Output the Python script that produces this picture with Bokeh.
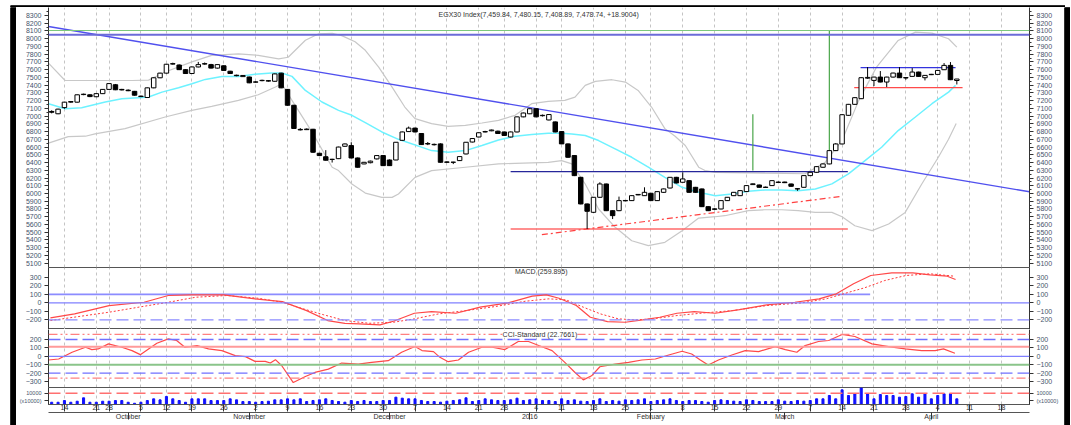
from bokeh.plotting import figure
from bokeh.layouts import column, row
from bokeh.models import FixedTicker, LinearAxis, Range1d, Grid, Span, Label
from bokeh.embed import file_html
from bokeh.resources import INLINE

FONT = "Liberation Sans"

# ---------------- data (trading-day index based) ----------------
opens = [7060, 7030, 7110, 7180, 7180, 7278, 7275, 7250, 7290, 7345, 7405, 7345, 7335, 7320, 7258, 7240, 7365, 7495, 7555, 7672,
         7660, 7600, 7550, 7635, 7672, 7665, 7620, 7650, 7580, 7528, 7510, 7505, 7438, 7458, 7458, 7450, 7555, 7345, 7140, 6828,
         6825, 6830, 6520, 6475, 6440, 6450, 6610, 6619, 6459, 6382, 6398, 6447, 6490, 6433, 6433, 6687, 6800, 6845, 6775, 6645,
         6630, 6641, 6408, 6405, 6425, 6511, 6665, 6730, 6795, 6810, 6805, 6795, 6730, 6795, 6990, 7030, 7095, 7005, 6950, 6925,
         6800, 6641, 6490, 6209, 5865, 5757, 5951, 6123, 5778, 5778, 5905, 5908, 5982, 5972, 6003, 5908, 6015, 6071, 6209, 6145,
         6166, 6080, 6059, 5830, 5795, 5800, 5908, 5972, 5972, 6025, 6115, 6110, 6078, 6102, 6142, 6148, 6123, 6062, 6080, 6231,
         6274, 6339, 6382, 6554, 6640, 7010, 7152, 7225, 7490, 7461, 7504, 7440, 7504, 7556, 7492, 7513, 7569, 7496, 7535, 7539,
         7599, 7655, 7459.84]
highs = [7075, 7095, 7185, 7195, 7280, 7290, 7282, 7295, 7350, 7425, 7415, 7352, 7345, 7325, 7265, 7370, 7500, 7560, 7675, 7690,
         7668, 7605, 7640, 7700, 7692, 7675, 7670, 7655, 7585, 7535, 7530, 7510, 7450, 7470, 7465, 7550, 7560, 7350, 7145, 6845,
         6840, 6835, 6525, 6560, 6448, 6605, 6645, 6662, 6465, 6408, 6425, 6495, 6495, 6440, 6665, 6800, 6865, 6850, 6780, 6665,
         6645, 6648, 6415, 6410, 6480, 6665, 6715, 6790, 6810, 6825, 6812, 6800, 6800, 6995, 7045, 7100, 7100, 7020, 7025, 6930,
         6805, 6645, 6495, 6215, 5870, 5955, 6145, 6128, 5783, 5960, 5915, 5978, 5992, 6080, 6008, 6028, 6063, 6213, 6215, 6274,
         6172, 6085, 6064, 5835, 5810, 5912, 5955, 6020, 6042, 6107, 6130, 6115, 6090, 6170, 6155, 6152, 6128, 6068, 6236, 6279,
         6352, 6387, 6560, 6650, 7025, 7157, 7243, 7500, 7633, 7508, 7582, 7508, 7560, 7633, 7505, 7620, 7574, 7530, 7545, 7594,
         7685, 7698, 7480.15]
lows = [7035, 7025, 7095, 7170, 7175, 7270, 7245, 7245, 7285, 7340, 7335, 7332, 7322, 7265, 7245, 7235, 7360, 7490, 7550, 7665,
        7595, 7545, 7545, 7630, 7665, 7615, 7615, 7585, 7545, 7515, 7505, 7425, 7430, 7450, 7445, 7445, 7360, 7135, 6835, 6815,
        6820, 6525, 6485, 6425, 6400, 6445, 6605, 6455, 6335, 6378, 6390, 6440, 6355, 6355, 6430, 6680, 6795, 6790, 6628, 6625,
        6620, 6398, 6395, 6380, 6420, 6505, 6660, 6725, 6790, 6805, 6770, 6745, 6725, 6790, 6985, 7025, 6985, 6995, 6945, 6790,
        6638, 6462, 6225, 5860, 5541, 5750, 5945, 5773, 5670, 5772, 5900, 5903, 5978, 5968, 5903, 5903, 6010, 6066, 6130, 6140,
        6010, 6010, 5825, 5773, 5785, 5795, 5903, 5967, 5967, 6020, 6110, 6075, 6072, 6097, 6138, 6135, 6088, 6035, 6075, 6226,
        6269, 6334, 6377, 6548, 6635, 7005, 7147, 7220, 7480, 7388, 7436, 7375, 7500, 7492, 7470, 7508, 7508, 7461, 7530, 7535,
        7595, 7465, 7408.89]
closes = [7050, 7090, 7180, 7188, 7275, 7283, 7252, 7290, 7345, 7420, 7340, 7338, 7328, 7270, 7252, 7365, 7495, 7555, 7670, 7678,
          7600, 7550, 7635, 7665, 7678, 7620, 7665, 7590, 7550, 7522, 7525, 7430, 7442, 7462, 7452, 7545, 7365, 7140, 6840, 6822,
          6832, 6533, 6490, 6430, 6442, 6600, 6640, 6459, 6339, 6403, 6418, 6490, 6360, 6360, 6662, 6795, 6845, 6795, 6632, 6640,
          6635, 6403, 6403, 6403, 6477, 6662, 6710, 6785, 6800, 6820, 6775, 6750, 6795, 6990, 7040, 7095, 6990, 7010, 7020, 6795,
          6641, 6468, 6231, 5865, 5770, 5951, 6123, 5778, 5714, 5908, 5910, 5972, 5988, 6015, 5908, 6024, 6059, 6209, 6136, 6188,
          6015, 6015, 5830, 5778, 5802, 5908, 5951, 6015, 6037, 6102, 6125, 6080, 6082, 6166, 6148, 6140, 6093, 6058, 6231, 6274,
          6347, 6382, 6554, 6640, 7018, 7152, 7238, 7496, 7500, 7504, 7440, 7504, 7556, 7496, 7498, 7569, 7513, 7526, 7540, 7590,
          7655, 7470, 7478.74]
volumes = [2000, 2000, 3500, 2000, 2900, 5900, 2000, 2000, 2900, 2900, 3500, 3500, 2000, 1100, 2000, 3500, 5000, 4100, 7100, 5000,
           3500, 2000, 5000, 5000, 5000, 3500, 3500, 3500, 5000, 4100, 2600, 2600, 2000, 2600, 2900, 4100, 4100, 5000, 4100, 5000,
           2650, 3540, 4130, 5010, 3540, 2650, 2060, 3540, 2650, 3540, 2650, 2650, 3540, 3540, 6490, 5600, 5010, 5010, 3540, 2650,
           2650, 2060, 2950, 3540, 4130, 5900, 2650, 3540, 5010, 4130, 3540, 3540, 4130, 5600, 3540, 4130, 5010, 3540, 3540, 2650,
           5010, 3540, 4130, 2950, 2650, 3540, 5010, 2650, 3540, 2950, 4130, 3540, 4130, 5010, 2650, 3540, 4130, 5010, 3540, 2650,
           3540, 3540, 2650, 2060, 3540, 4130, 3540, 2950, 2650, 4130, 3540, 2650, 2650, 2650, 4130, 2950, 2650, 3540, 2950, 3540,
           5010, 5010, 7960, 5010, 12980, 7960, 9440, 14700, 9440, 5010, 8850, 7960, 7960, 6490, 7080, 9440, 6490, 9440, 5010, 7960,
           9440, 9440, 5010]
days = list(range(len(closes)))

# 20-day moving average (cyan) and Bollinger bands (gray)
ma_x = [-0.5, 2.1, 4.7, 8.4, 11.0, 13.6, 15.2, 17.3, 19.9, 22.0, 24.1, 26.7, 29.3, 31.9, 34.5, 36.1, 37.7, 39.8, 42.4, 45.0,
        47.1, 49.2, 51.8, 54.4, 59.6, 62.2, 64.9, 67.5, 70.1, 72.7, 75.3, 77.9, 80.0, 81.6, 83.7, 85.8, 88.4, 91.0, 93.6, 96.2,
        98.9, 101.5, 104.1, 106.7, 109.3, 111.9, 114.5, 117.1, 119.8, 122.4, 125.0, 127.6, 130.2, 132.8, 135.5, 138.1, 140.7, 141.8]
ma_y = [7160, 7096, 7108, 7182, 7225, 7238, 7246, 7310, 7367, 7418, 7474, 7513, 7513, 7540, 7556, 7556, 7513, 7332, 7182, 7074,
        7010, 6915, 6795, 6700, 6554, 6533, 6554, 6620, 6692, 6740, 6761, 6778, 6778, 6770, 6750, 6684, 6576, 6468, 6340, 6209,
        6080, 6016, 5972, 5994, 6028, 6046, 6046, 6037, 6059, 6124, 6253, 6425, 6598, 6813, 6988, 7160, 7310, 7397]
bbu_x = [-0.5, 2.1, 4.7, 8.4, 12.6, 15.2, 17.8, 22.0, 25.1, 29.3, 32.4, 35.6, 37.1, 39.8, 41.9, 44.0, 45.5, 47.6, 49.2, 51.3,
         53.4, 55.4, 57.0, 59.6, 62.2, 64.9, 67.5, 70.1, 72.7, 75.3, 77.9, 80.5, 82.1, 83.7, 85.3, 87.9, 90.0, 92.0, 94.1, 96.2,
         97.8, 99.4, 101.5, 102.5, 104.1, 111.9, 118.2, 121.3, 124.0, 126.6, 129.4, 132.8, 135.5, 138.1, 140.7, 142.0]
bbu_y = [7685, 7460, 7460, 7460, 7460, 7465, 7570, 7700, 7785, 7805, 7785, 7740, 7760, 7980, 8063, 8070, 8040, 7960, 7850, 7633,
         7375, 7117, 6967, 6902, 6868, 6881, 6911, 6945, 7010, 7160, 7190, 7203, 7246, 7397, 7448, 7470, 7440, 7332, 7117, 6838,
         6740, 6620, 6340, 6296, 6274, 6262, 6255, 6400, 6687, 7200, 7633, 7977, 8085, 8072, 7999, 7891]
bbl_x = [-0.5, 2.6, 5.3, 6.8, 11.5, 17.8, 22.0, 25.1, 29.3, 32.4, 35.1, 36.1, 37.7, 40.8, 44.0, 45.0, 47.1, 49.2, 51.8, 53.4,
         54.4, 57.0, 59.6, 64.9, 70.1, 72.7, 77.9, 80.0, 81.6, 83.7, 85.8, 88.4, 91.0, 93.6, 96.2, 98.9, 101.5, 104.1, 105.6, 109.3,
         111.9, 114.5, 117.1, 119.8, 122.4, 124.0, 126.0, 128.7, 131.3, 133.9, 136.5, 139.1, 140.7, 141.9]
bbl_y = [6650, 6735, 6740, 6770, 6838, 6988, 7074, 7126, 7203, 7276, 7375, 7418, 7203, 6800, 6340, 6296, 6123, 6005, 5950, 5950,
         5994, 6209, 6296, 6339, 6382, 6390, 6403, 6425, 6382, 6123, 5800, 5563, 5390, 5326, 5369, 5520, 5683, 5700, 5713, 5778,
         5790, 5790, 5778, 5756, 5756, 5700, 5584, 5520, 5606, 5756, 6123, 6468, 6700, 6905]

# drawn analysis lines
price_refs = [8106, 8050]
trend_x = [-0.5, 153.4]
trend_y = [8158, 6022]
tri_x = [72.0, 124.9]
tri_top = [6283, 6283]
tri_bottom = [5541, 5541]
support_x = [76.9, 124.0]
support_y = [5468, 5964]
vline_x = [110, 122]
vline_y0 = [6296, 6555]
vline_y1 = [7023, 8106]
flag_top_x = [126.9, 141.8]
flag_top_y = [7625, 7625]
flag_bot_x = [125.9, 142.9]
flag_bot_y = [7367, 7367]

# MACD
macd_x = [-0.2, 3.6, 9.0, 14.5, 18.3, 22.0, 27.0, 31.9, 36.2, 40.0, 43.3, 46.0, 48.2, 51.5, 53.6, 56.9, 59.6, 63.4, 67.2, 71.6,
          75.4, 77.6, 79.6, 82.3, 84.5, 87.2, 90.0, 92.7, 95.4, 98.1, 100.8, 104.1, 107.9, 112.2, 116.6, 120.4, 123.1, 125.8, 128.5, 131.8,
          135.1, 137.8, 140.5, 141.8]
macd_y = [-176, -130, -32, 7, 86, 94, 94, 47, 15, -91, -208, -240, -247, -259, -216, -122, -102, -122, -51, 0,
          78, 94, 54, -32, -169, -220, -228, -200, -169, -122, -102, -122, -79, -24, 7, 47, 106, 224, 321, 353,
          353, 329, 313, 274]
sig_x = [-0.2, 9.0, 14.5, 18.3, 22.6, 27.5, 32.4, 36.2, 39.5, 42.7, 46.0, 49.8, 53.6, 56.9, 60.7, 65.0, 69.9, 74.3, 78.0, 80.7,
         83.4, 86.1, 88.9, 91.6, 94.3, 98.1, 102.4, 106.8, 112.2, 117.7, 121.5, 124.2, 127.5, 130.7, 134.0, 137.8, 141.6]
sig_y = [-208, -110, -40, 7, 66, 86, 54, 7, -71, -141, -208, -240, -228, -188, -130, -91, -40, 19, 47, 35,
         -51, -130, -188, -200, -188, -149, -118, -91, -32, 0, 47, 106, 176, 262, 321, 341, 313]
macd_band_x = [-0.5, 128.4]
macd_band_y = [100, 100]
macd_levels = [0, -200]

# CCI
cci_x = [-0.5, 1.1, 3.2, 5.3, 6.3, 7.3, 8.9, 11.0, 12.6, 13.9, 15.2, 16.5, 18.3, 19.6, 20.9, 22.8, 24.6, 26.7, 28.8, 30.4,
         31.9, 33.5, 34.3, 35.1, 36.1, 37.9, 39.8, 41.3, 43.4, 45.5, 48.1, 50.2, 52.8, 54.9, 57.0, 58.1, 59.9, 60.9, 62.2, 63.8,
         65.4, 67.5, 69.1, 71.1, 73.2, 74.8, 76.4, 78.5, 80.5, 82.1, 83.4, 84.7, 86.0, 88.4, 90.5, 92.6, 94.7, 96.8, 98.9, 100.4,
         101.7, 103.0, 104.6, 106.7, 108.8, 110.9, 113.5, 115.1, 116.9, 118.2, 120.3, 121.9, 124.0, 126.0, 128.7, 131.3, 133.9, 136.5, 138.6, 139.9,
         141.7]
cci_y = [-44, -32, 48, 108, 80, 88, 148, 108, 68, 20, 88, 156, 208, 188, 108, 128, 88, 68, 8, -4,
         -60, -60, -80, -40, -112, -312, -240, -192, -152, -80, -92, -72, -52, 48, 116, 68, 56, -12, -64, -44,
         48, 108, 108, 80, 176, 176, 128, 68, -72, -192, -280, -232, -124, -92, -72, -44, -32, 16, 60, 28,
         -40, -104, -44, 16, 68, 56, 116, 80, 48, 128, 176, 188, 260, 236, 148, 116, 88, 68, 68, 88,
         36]
cci_dashdot = [260, -260]
cci_dashed = [200, -200]
cci_red = 115
cci_zero = 0
cci_green = -100

vol_ref = 10000

# axis ticks / labels
price_ticks = list(range(5100, 8301, 100))
price_minor = list(range(5050, 8351, 100))
macd_ticks = [-200, -100, 0, 100, 200, 300]
cci_ticks = [-300, -200, -100, 0, 100, 200]
vol_ticks = [3400, 10000]
vol_labels = ["(x10000)", "10000"]
week_ticks = [2, 7, 9, 14, 18, 22, 27, 32, 37, 42, 47, 52, 57, 62, 67, 71, 76, 80, 85, 90, 94, 99, 104, 109, 114,
              119, 124, 129, 134, 139, 144, 149]
week_labels = ["14", "21", "28", "5", "12", "19", "26", "2", "9", "16", "23", "30", "7", "14", "21", "28", "4", "11",
               "18", "25", "1", "8", "15", "22", "29", "7", "14", "21", "28", "4", "11", "18"]
month_ticks = [12, 31, 53, 75, 94, 115, 138]
month_labels = ["October", "November", "December", "2016", "February", "March", "April"]

title_text = "EGX30 Index(7,459.84, 7,480.15, 7,408.89, 7,478.74, +18.9004)"
macd_text = "MACD (259.895)"
cci_text = "CCI-Standard (22.7661)"

# ---------------- figures ----------------
AX_COL = "#46536c"
xr = Range1d(-0.5, 153.4)


def style_y(ax, ticks, minor=None, overrides=None, size="7px"):
    ax.ticker = FixedTicker(ticks=ticks, minor_ticks=minor or [])
    ax.major_label_text_font = FONT
    ax.major_label_text_font_size = size
    ax.major_label_text_color = AX_COL
    ax.axis_line_color = "#333333"
    ax.major_tick_line_color = "#333333"
    ax.minor_tick_line_color = "#333333"
    ax.major_tick_in = 0
    ax.major_tick_out = 4
    ax.minor_tick_in = 0
    ax.minor_tick_out = 2
    ax.major_label_standoff = 3
    if overrides:
        ax.major_label_overrides = overrides


def make_fig(fh, y0, y1, ticks, minor=None, overrides=None, size="7px"):
    p = figure(frame_width=981, frame_height=fh, x_range=xr, y_range=Range1d(y0, y1),
               title=None, toolbar_location=None, output_backend="svg",
               x_axis_location=None, y_axis_location="left",
               min_border_left=27, min_border_right=35, min_border_top=0, min_border_bottom=0,
               outline_line_color=None, background_fill_color="white", border_fill_color="white")
    p.xgrid.visible = False
    p.ygrid.visible = False
    p.add_layout(Grid(dimension=0, ticker=FixedTicker(ticks=week_ticks),
                      grid_line_color="#c4c4c4", grid_line_dash="3 3", grid_line_width=1))
    style_y(p.yaxis[0], ticks, minor, overrides, size)
    ra = LinearAxis()
    style_y(ra, ticks, minor, overrides, size)
    p.add_layout(ra, "right")
    return p


def black_bar(w, h):
    # decorative frame strip of the original screenshot
    b = figure(frame_width=w, frame_height=h, title=None, toolbar_location=None, output_backend="svg",
               x_axis_location=None, y_axis_location=None,
               min_border_left=0, min_border_right=0, min_border_top=0, min_border_bottom=0,
               outline_line_color=None, background_fill_color="black", border_fill_color="black",
               x_range=Range1d(0, 1), y_range=Range1d(0, 1))
    b.xgrid.visible = False
    b.ygrid.visible = False
    b.quad(left=[0], right=[1], bottom=[0], top=[1], color="black")
    return b


# main price panel
pm = make_fig(260, 5044, 8403, price_ticks, price_minor)
pm.line(bbu_x, bbu_y, color="#c8c8c8", line_width=1.2)
pm.line(bbl_x, bbl_y, color="#c8c8c8", line_width=1.2)
pm.line(ma_x, ma_y, color="#6df2ff", line_width=1.5)
pm.add_layout(Span(location=price_refs[0], dimension="width", line_color="#7cc87c", line_width=1.2))
pm.add_layout(Span(location=price_refs[1], dimension="width", line_color="#6b6bd8", line_width=2))
pm.line(trend_x, trend_y, color="#5050ee", line_width=1.4)
pm.line(tri_x, tri_top, color="#26269a", line_width=1.2)
pm.line(tri_x, tri_bottom, color="#ff6a6a", line_width=1.5)
pm.line(support_x, support_y, color="#ff4040", line_width=1.2, line_dash="6 3 2 3")
pm.segment(x0=vline_x, y0=vline_y0, x1=vline_x, y1=vline_y1, color="#4aa64a", line_width=1.2)
pm.line(flag_top_x, flag_top_y, color="#3333dd", line_width=1.3)
pm.line(flag_bot_x, flag_bot_y, color="#ff4a4a", line_width=1.3)

body_lo = [min(o, c) for o, c in zip(opens, closes)]
body_hi = [max(o, c) for o, c in zip(opens, closes)]
body_fill = ["white" if c >= o else "black" for o, c in zip(opens, closes)]
pm.segment(x0=days, y0=lows, x1=days, y1=highs, color="black", line_width=1)
pm.vbar(x=days, bottom=body_lo, top=body_hi, width=0.7, fill_color=body_fill, line_color="black", line_width=1)
pm.add_layout(Label(x=76.4, y=8313, text=title_text, text_align="center", text_baseline="middle",
                    text_font=FONT, text_font_size="7px", text_color="#333333"))

# MACD panel
pmacd = make_fig(62, -313, 415, macd_ticks)
pmacd.outline_line_color = "#555555"
pmacd.line(macd_band_x, macd_band_y, color="#8c8cff", line_width=1.6)
pmacd.add_layout(Span(location=macd_levels[0], dimension="width", line_color="#8080ff", line_width=1.2))
pmacd.add_layout(Span(location=macd_levels[1], dimension="width", line_color="#8c8cff", line_width=1.4,
                      line_dash="12 5"))
pmacd.line(sig_x, sig_y, color="#ff3a3a", line_width=1, line_dash="2 2")
pmacd.line(macd_x, macd_y, color="#ff4848", line_width=1.2)
pmacd.add_layout(Label(x=76.8, y=367, text=macd_text, text_align="center", text_baseline="middle",
                       text_font=FONT, text_font_size="7px", text_color="#333333"))

# CCI panel
pcci = make_fig(58, -371, 319, cci_ticks)
for lv in cci_dashdot:
    pcci.add_layout(Span(location=lv, dimension="width", line_color="#ff8080", line_width=1.3,
                         line_dash="9 3 2 3 2 3"))
for lv in cci_dashed:
    pcci.add_layout(Span(location=lv, dimension="width", line_color="#7070ff", line_width=1.3, line_dash="12 5"))
pcci.add_layout(Span(location=cci_red, dimension="width", line_color="#ff9a9a", line_width=2))
pcci.add_layout(Span(location=cci_zero, dimension="width", line_color="#8080ff", line_width=1.2))
pcci.add_layout(Span(location=cci_green, dimension="width", line_color="#8ac48a", line_width=2))
pcci.line(cci_x, cci_y, color="#ff4848", line_width=1.2)
pcci.add_layout(Label(x=76.6, y=262, text=cci_text, text_align="center", text_baseline="middle",
                      text_font=FONT, text_font_size="7px", text_color="#333333",
                      background_fill_color="white"))

# Volume panel
pv = make_fig(17, 0, 15044, vol_ticks, None, dict(zip(vol_ticks, vol_labels)), "5.5px")
pv.outline_line_color = "#555555"
pv.add_layout(Span(location=vol_ref, dimension="width", line_color="#ff7070", line_width=1.4, line_dash="12 5"))
pv.vbar(x=days, bottom=0, top=volumes, width=0.32, color="#1010ff")


def style_x(ax, ticks, labels):
    ax.ticker = FixedTicker(ticks=ticks)
    ax.major_label_overrides = dict(zip(ticks, labels))
    ax.major_label_text_font = FONT
    ax.major_label_text_font_size = "7px"
    ax.major_label_text_color = "#333333"
    ax.major_label_text_align = "left"
    ax.major_label_text_baseline = "top"
    ax.axis_line_color = "#555555"
    ax.major_tick_line_color = "#333333"
    ax.major_tick_in = 0
    ax.major_tick_out = 7
    ax.minor_tick_out = 0
    ax.minor_tick_in = 0
    ax.major_label_standoff = -7


ax_w = LinearAxis()
style_x(ax_w, week_ticks, week_labels)
pv.add_layout(ax_w, "below")
ax_m = LinearAxis()
style_x(ax_m, month_ticks, month_labels)
pv.add_layout(ax_m, "below")

inner = column(pm, pmacd, pcci, pv, spacing=0)
left_bar = black_bar(6, 418)
right_bar = black_bar(6, 418)
top_bar = black_bar(1055, 7)
layout = column(top_bar, row(left_bar, inner, right_bar, spacing=0), spacing=0, margin=(0, 0, 0, 10))

open("out.html", "w").write(file_html(layout, INLINE))
